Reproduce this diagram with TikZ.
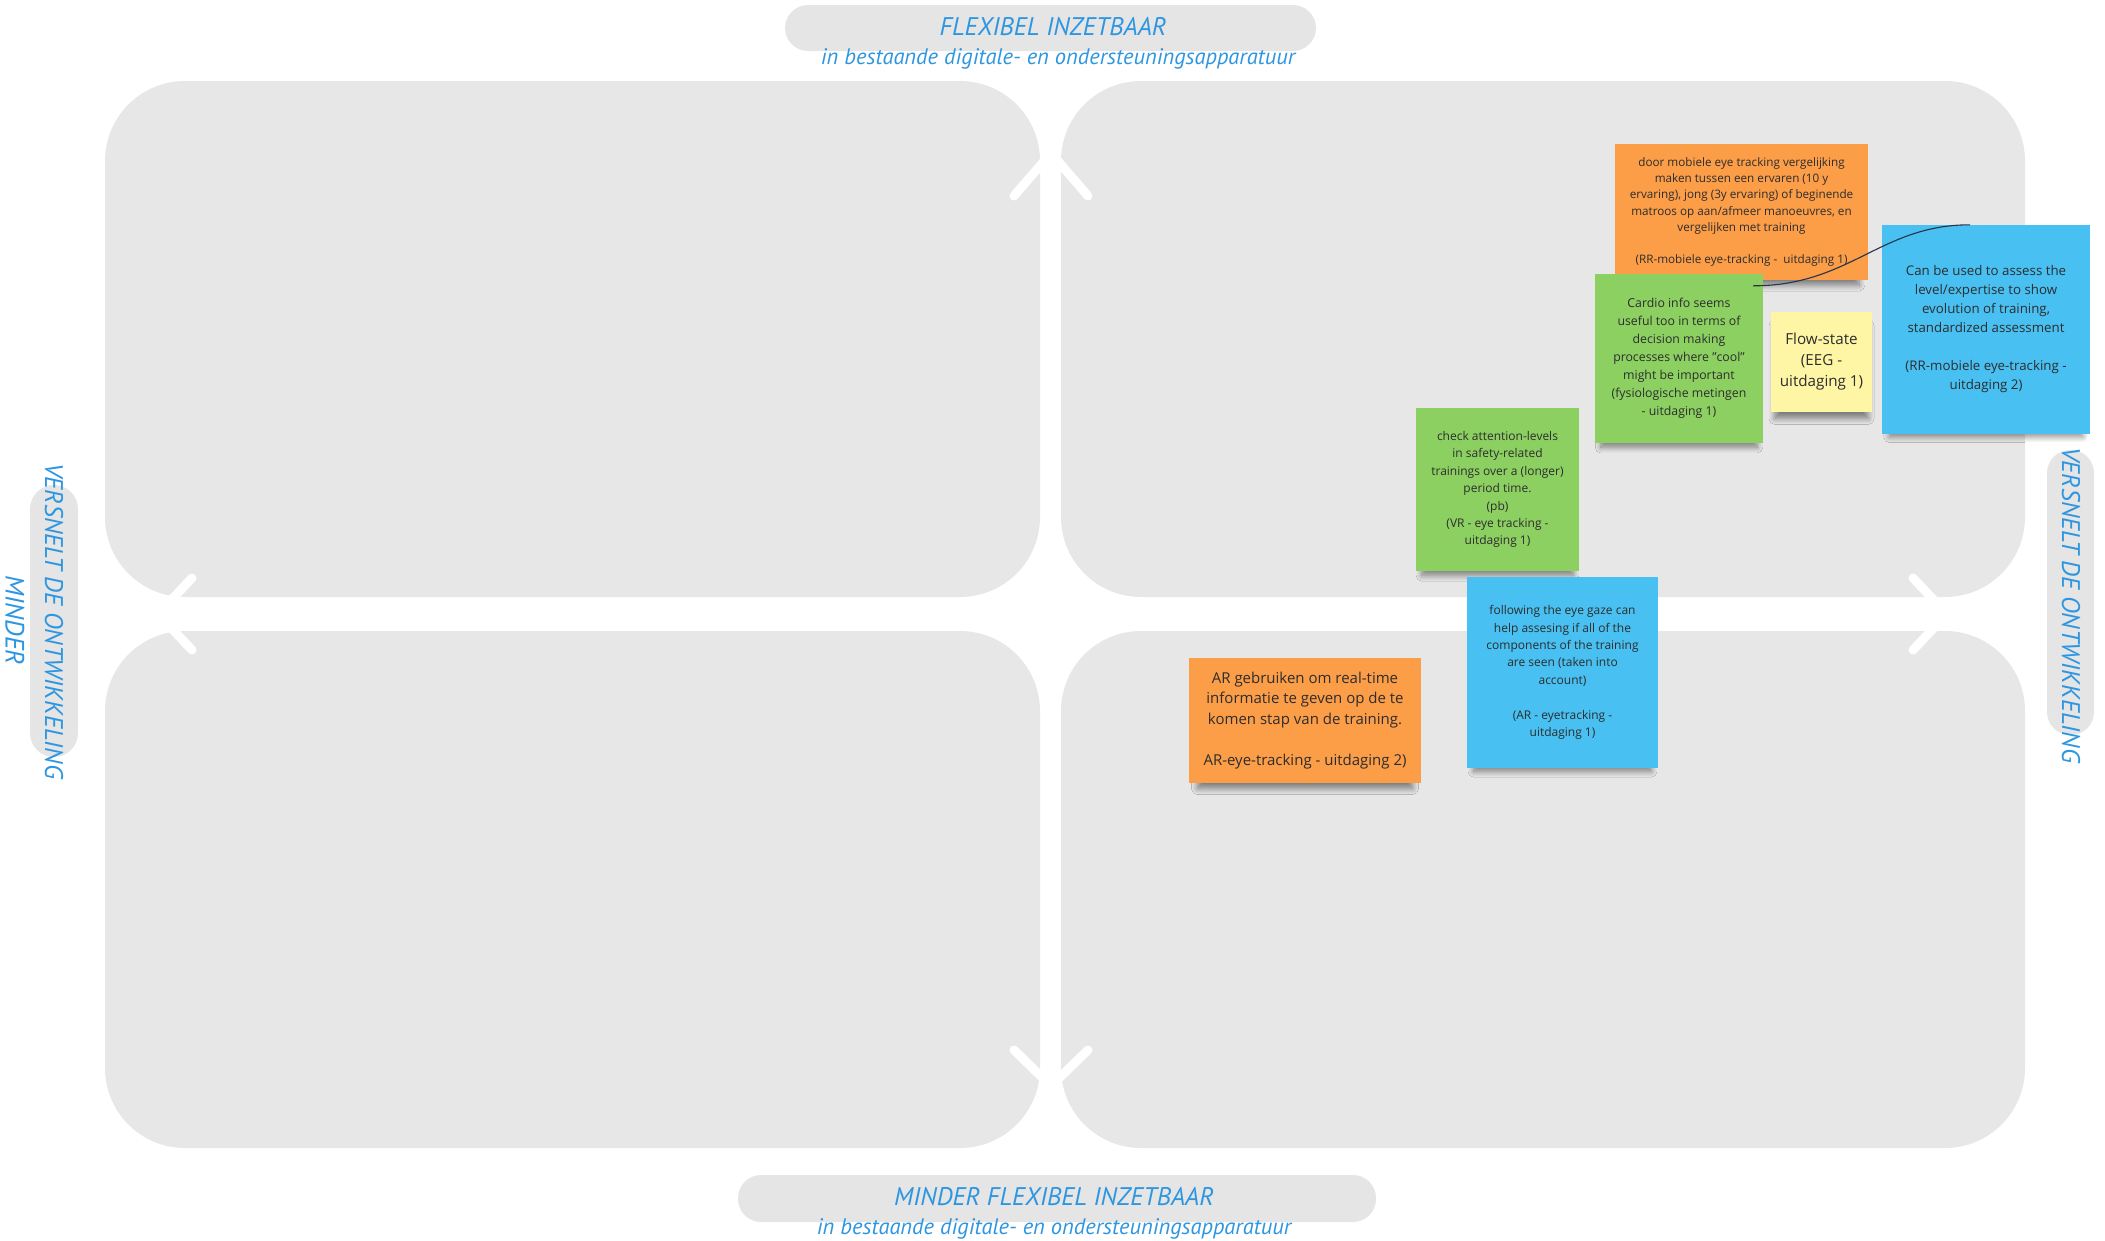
\documentclass[tikz,border=0pt]{standalone}
\usepackage{fontspec}
\setmainfont{Open Sans}
\newfontfamily\handfont{PT Sans}
\usetikzlibrary{calc,shadows.blur}

\definecolor{quadgrey}{RGB}{231,231,231}
\definecolor{pillgrey}{RGB}{229,229,229}
\definecolor{titleblue}{RGB}{45,150,225}
\definecolor{noteorange}{RGB}{252,157,72}
\definecolor{notegreen}{RGB}{140,208,98}
\definecolor{noteyellow}{RGB}{255,246,165}
\definecolor{noteblue}{RGB}{72,192,242}
\definecolor{notetext}{RGB}{45,45,45}
\definecolor{linkcol}{RGB}{40,50,70}

\tikzset{
  quad/.style={fill=quadgrey, rounded corners=80pt},
  pill/.style={fill=pillgrey, rounded corners=23pt},
  chevron/.style={draw=white, line width=9pt, line cap=round, line join=round},
  heading/.style={text=titleblue, inner sep=0pt,
    font=\handfont\itshape\fontsize{25.5}{28}\selectfont},
  subheading/.style={text=titleblue, inner sep=0pt,
    font=\handfont\itshape\fontsize{22.5}{26}\selectfont},
  sticky/.style={align=center, text=notetext, inner sep=0pt,
    blur shadow={shadow xshift=0pt, shadow yshift=-11pt, shadow scale=0.93,
                 shadow blur steps=10, shadow blur radius=6pt,
                 shadow opacity=45}},
  link/.style={draw=linkcol, line width=1.1pt},
}

\begin{document}
\begin{tikzpicture}[x=1pt, y=-1pt]
\useasboundingbox (0,0) rectangle (2105,1240);

% four quadrants of the matrix
\fill[quad] (105,81)   rectangle (1040,597);
\fill[quad] (1061,81)  rectangle (2025,597);
\fill[quad] (105,631)  rectangle (1040,1148);
\fill[quad] (1061,631) rectangle (2025,1148);

% arrow heads at the ends of the two axes
\draw[chevron] (1014,196)  -- (1051,153)  -- (1088,196);
\draw[chevron] (1014,1050) -- (1051,1086) -- (1088,1050);
\draw[chevron] (1913,578)  -- (1947,614)  -- (1913,650);
\draw[chevron] (192,578)   -- (158,614)   -- (192,650);

% axis labels
\fill[pill] (785,5) rectangle (1316,51);
\node[heading]    (topttl) at (1053,27) {FLEXIBEL INZETBAAR};
\node[subheading] (topsub) at (1058,59) {in bestaande digitale- en ondersteuningsapparatuur};

\fill[pill] (738,1175) rectangle (1376,1222);
\node[heading]    (botttl) at (1054,1197) {MINDER FLEXIBEL INZETBAAR};
\node[subheading] (botsub) at (1054,1229) {in bestaande digitale- en ondersteuningsapparatuur};

\fill[pill, rounded corners=24pt] (30,485) rectangle (78,757);
\node[heading, rotate=-90] (leftttl) at (54,621) {VERSNELT DE ONTWIKKELING};
\node[heading, rotate=-90, font=\handfont\itshape\fontsize{26.5}{28}\selectfont]
  (leftsub) at (15,620) {MINDER};

\fill[pill] (2047,450) rectangle (2094,735);
\node[heading, rotate=-90] (rightttl) at (2071,605) {VERSNELT DE ONTWIKKELING};

% sticky notes
\node[sticky, fill=noteorange, minimum width=253pt, minimum height=136pt,
      font=\fontsize{11.7}{16.3}\selectfont] (mobile) at (1741.5,212)
  {door mobiele eye tracking vergelijking\\maken tussen een ervaren (10 y\\
   ervaring), jong (3y ervaring) of beginende\\matroos op aan/afmeer manoeuvres, en\\
   vergelijken met training\\[16.3pt](RR-mobiele eye-tracking -\ \ uitdaging 1)};

\node[sticky, fill=notegreen, minimum width=168pt, minimum height=169pt,
      font=\fontsize{12.3}{18}\selectfont] (cardio) at (1679,358.5)
  {Cardio info seems\\useful too in terms of\\decision making\\processes where "cool"\\
   might be important\\(fysiologische metingen\\- uitdaging 1)};

\node[sticky, fill=noteyellow, minimum width=101pt, minimum height=100pt,
      font=\fontsize{15.2}{21}\selectfont] (flow) at (1821.5,362)
  {Flow-state\\(EEG -\\uitdaging 1)};

\node[sticky, fill=noteblue, minimum width=208pt, minimum height=209pt,
      font=\fontsize{13.3}{19}\selectfont] (canuse) at (1986,329.5)
  {Can be used to assess the\\level/expertise to show\\evolution of training,\\
   standardized assessment\\[19pt](RR-mobiele eye-tracking -\\uitdaging 2)};

\node[sticky, fill=notegreen, minimum width=163pt, minimum height=163pt,
      font=\fontsize{12}{17.4}\selectfont] (attention) at (1497.5,489.5)
  {check attention-levels\\in safety-related\\trainings over a (longer)\\period time.\\
   (pb)\\(VR - eye tracking -\\uitdaging 1)};

\node[sticky, fill=noteblue, minimum width=191pt, minimum height=191pt,
      font=\fontsize{12}{17.4}\selectfont] (gaze) at (1562.5,672.5)
  {following the eye gaze can\\help assesing if all of the\\components of the training\\
   are seen (taken into\\account)\\[17.4pt](AR - eyetracking -\\uitdaging 1)};

\node[sticky, fill=noteorange, minimum width=232pt, minimum height=125pt,
      font=\fontsize{15}{20.7}\selectfont] (realtime) at (1305,720.5)
  {AR gebruiken om real-time\\informatie te geven op de te\\komen stap van de training.\\[20.7pt]
   AR-eye-tracking - uitdaging 2)};

% connector between the cardio note and the assessment note
\coordinate (linkA) at ($(cardio.north east)+(-10,12)$);
\coordinate (linkB) at ($(canuse.north)+(-16,0)$);
\draw[link] (linkA) .. controls ($(linkA)+(97,0)$) and ($(linkB)+(-90,0)$) .. (linkB);
\end{tikzpicture}
\end{document}
